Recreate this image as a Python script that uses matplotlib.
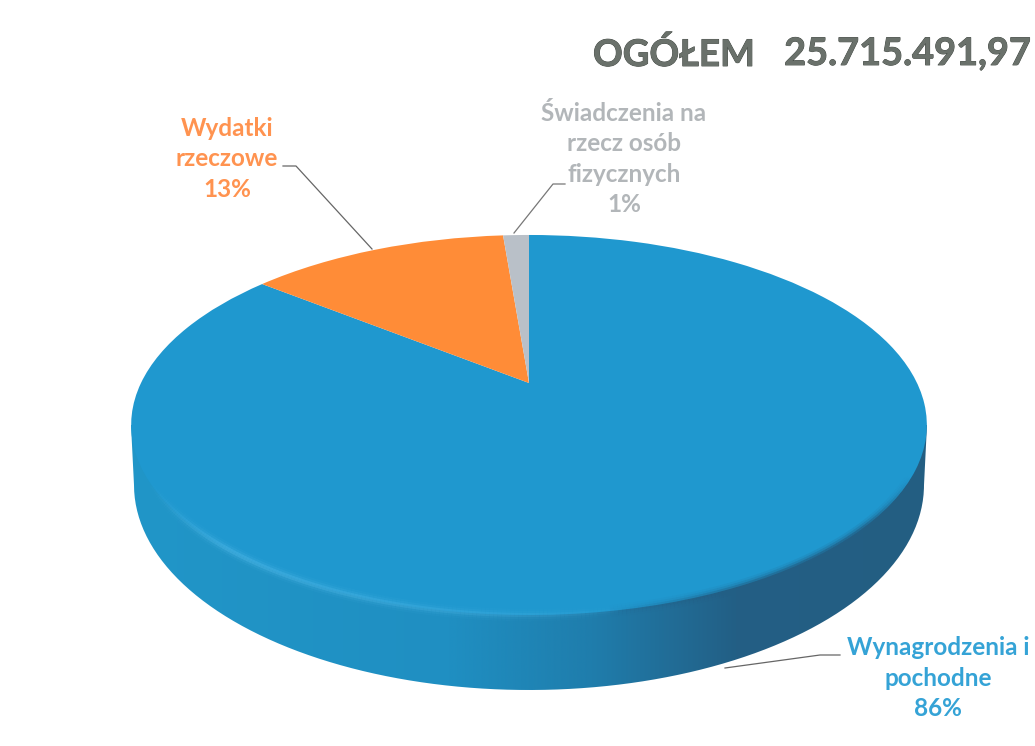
import numpy as np
import matplotlib
matplotlib.use('Agg')
import matplotlib.pyplot as plt
import matplotlib.patheffects as pe
from matplotlib.collections import LineCollection
from matplotlib.colors import LinearSegmentedColormap, to_rgb
from matplotlib.patches import PathPatch
from matplotlib.path import Path
from matplotlib.transforms import Transform

plt.rcParams['font.family'] = ['Lato', 'DejaVu Sans']

names = ['Wynagrodzenia i\npochodne', 'Wydatki\nrzeczowe', 'Świadczenia na\nrzecz osób\nfizycznych']
shares = [85.7, 13.0, 1.3]
slice_colors = ['#1f98cf', '#ff8c37', '#b9c0c8']
text_colors = ['#35a3d6', '#ff9350', '#b2b6b9']
title_left = 'OGÓŁEM'
title_right = '25.715.491,97'

# pie plane as seen in the picture, in pixels
CX, CY = 529, 383
PX, PY, K = 388, -96.1, 0.221


class PiePerspective(Transform):
    input_dims = 2
    output_dims = 2

    def transform_non_affine(self, values):
        values = np.asarray(values, dtype=float)
        w = 1 + K * values[:, 1]
        return np.column_stack([CX + PX * values[:, 0] / w, (CY + PY * values[:, 1]) / w])


persp = PiePerspective()


def rim(t):
    return persp.transform_non_affine(np.column_stack([np.cos(t), np.sin(t)]))


fig = plt.figure(figsize=(10.35, 7.46), dpi=100)
ax = fig.add_axes([0, 0, 1, 1])
ax.axis('off')

# side wall of the disc
t = np.linspace(np.pi, 2 * np.pi, 200)
wall_x = 529 + 395 * np.cos(t)
wall_y = 485 - 205 * np.sin(t)
wall = np.vstack([[131, 425], np.column_stack([wall_x, wall_y]), [927, 425]])
wall_cmap = LinearSegmentedColormap.from_list('wall', [(0, '#2196c8'), (0.4, '#1f8fc2'), (0.58, '#1f7dac'),
                                                        (0.76, '#235f85'), (1, '#245e82')], N=1024)
img = ax.imshow(np.linspace(0, 1, 1024)[None, :], cmap=wall_cmap, extent=[131, 927, 700, 400], aspect='auto',
                zorder=1)
clip = PathPatch(Path(wall), transform=ax.transData, fc='none', ec='none')
ax.add_patch(clip)
img.set_clip_path(clip)

# top of the disc
wedges, _ = ax.pie(shares, colors=slice_colors, startangle=90, counterclock=False)
for w in wedges:
    w.set_transform(persp + ax.transData)
    w.set_zorder(2)
    w.set_linewidth(0)

# soft edge where top meets the wall, light on the left and dark on the right
t = np.linspace(np.pi * 1.1, 1.9 * np.pi, 300)
pts = rim(t)
segs = np.stack([pts[:-1], pts[1:]], axis=1)
mid = (pts[:-1, 0] + pts[1:, 0]) / 2
pos = (mid - 131) / 796
glow = np.clip(1 - pos / 0.62, 0, 1) ** 0.6 * np.clip((pos - 0.02) / 0.1, 0, 1)
shade = np.clip((pos - 0.6) / 0.25, 0, 1) * np.clip((0.98 - pos) / 0.06, 0, 1)
for lw, a in [(9, 0.10), (6, 0.20), (3, 0.45)]:
    cols = np.zeros((len(mid), 4))
    cols[:, :3] = to_rgb('#4fb8e8')
    cols[:, 3] = glow * a
    ax.add_collection(LineCollection(segs, colors=cols, linewidths=lw, zorder=3, capstyle='butt'))
    cols = np.zeros((len(mid), 4))
    cols[:, :3] = to_rgb('#235f85')
    cols[:, 3] = shade * a * 1.4
    ax.add_collection(LineCollection(segs, colors=cols, linewidths=lw, zorder=3, capstyle='butt'))

# leader lines
ax.plot([725, 820, 840], [668, 655, 655], color='#666666', lw=0.9, zorder=4)
ax.plot([283, 296, 372], [166, 166, 249], color='#666666', lw=0.9, zorder=4)
ax.plot([565, 553, 514], [184, 184, 233], color='#777777', lw=0.9, zorder=4)

# labels
label_pos = [(938, 678), (227, 159), (624, 159)]
for name, share, col, (x, y) in zip(names, shares, text_colors, label_pos):
    ax.text(x, y, f'{name}\n{round(share)}%', color=col, ha='center', va='center', fontsize=17.5,
            fontweight='bold', linespacing=1.38, zorder=5)

# heading
outline = [pe.withStroke(linewidth=0.6, foreground='#3f4540')]
ax.text(593, 55, title_left, color='#6a716b', fontsize=26.5, fontweight='bold', va='center', path_effects=outline)
ax.text(1031, 54, title_right, color='#6a716b', fontsize=27.3, fontweight='bold', va='center', ha='right',
        path_effects=outline)

ax.set_aspect('auto')
ax.set_xlim(0, 1035)
ax.set_ylim(746, 0)
fig.savefig('out.png', dpi=100, facecolor='white')
